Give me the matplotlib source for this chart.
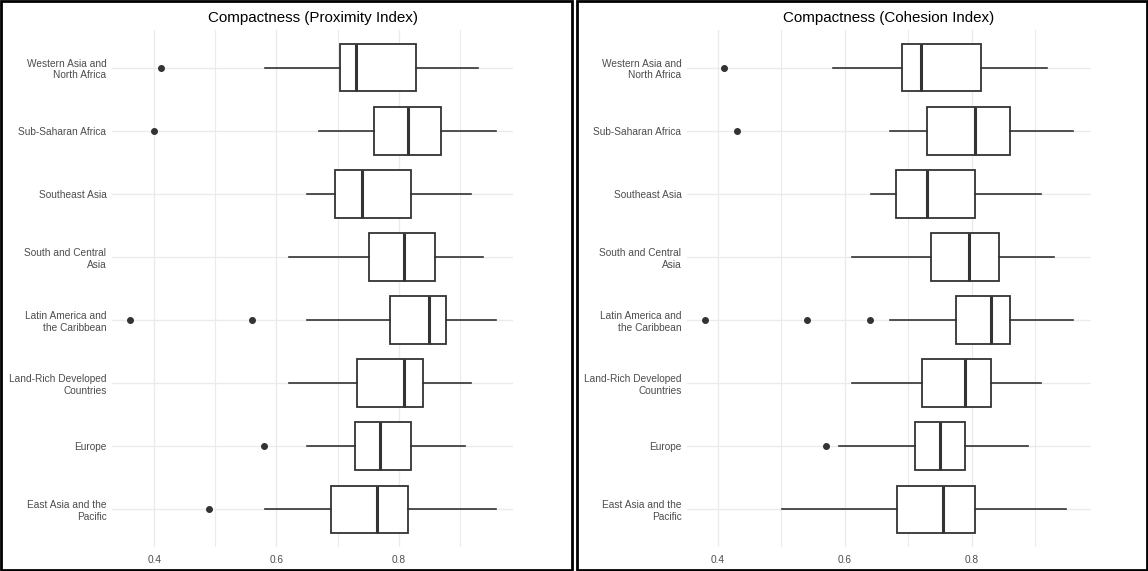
import matplotlib
matplotlib.use("Agg")
import matplotlib.pyplot as plt
from matplotlib.patches import Rectangle

plt.rcParams['font.family'] = ['Liberation Sans', 'DejaVu Sans']

regions = ["Western Asia and\nNorth Africa", "Sub-Saharan Africa", "Southeast Asia",
           "South and Central\nAsia", "Latin America and\nthe Caribbean",
           "Land-Rich Developed\nCountries", "Europe", "East Asia and the\nPacific"]

# proximity index: whisker low, q1, median, q3, whisker high, outliers
prox_lo = [0.581, 0.670, 0.650, 0.621, 0.650, 0.621, 0.650, 0.581]
prox_q1 = [0.704, 0.760, 0.695, 0.752, 0.785, 0.732, 0.729, 0.690]
prox_med = [0.730, 0.816, 0.740, 0.809, 0.849, 0.809, 0.770, 0.764]
prox_q3 = [0.829, 0.869, 0.820, 0.859, 0.877, 0.839, 0.820, 0.815]
prox_hi = [0.929, 0.959, 0.918, 0.938, 0.959, 0.918, 0.908, 0.959]
prox_out = [[0.411], [0.400], [], [], [0.361, 0.560], [], [0.580], [0.490]]

# cohesion index
coh_lo = [0.581, 0.671, 0.641, 0.611, 0.671, 0.611, 0.590, 0.501]
coh_q1 = [0.690, 0.730, 0.680, 0.735, 0.775, 0.722, 0.710, 0.682]
coh_med = [0.720, 0.805, 0.730, 0.795, 0.830, 0.790, 0.750, 0.755]
coh_q3 = [0.815, 0.860, 0.805, 0.843, 0.860, 0.830, 0.790, 0.805]
coh_hi = [0.919, 0.959, 0.909, 0.929, 0.959, 0.909, 0.889, 0.949]
coh_out = [[0.410], [0.430], [], [], [0.380, 0.540, 0.640], [], [0.570], []]

W, H = 1148, 571
fig = plt.figure(figsize=(W / 100, H / 100), dpi=100)

line_col = '#333333'
grid_col = '#EBEBEB'


def panel(x0, x1, title, lo, q1, med, q3, hi, out, xlim):
    ax = fig.add_axes([x0 / W, 1 - 547 / H, (x1 - x0) / W, (547 - 30) / H])
    n = len(regions)
    pos = list(range(n, 0, -1))
    stats = []
    for i in range(n):
        stats.append(dict(whislo=lo[i], q1=q1[i], med=med[i], q3=q3[i],
                          whishi=hi[i], fliers=out[i]))
    ax.bxp(stats, positions=pos, vert=False, widths=0.75, showcaps=False,
           patch_artist=True,
           boxprops=dict(facecolor='white', edgecolor=line_col, linewidth=1.3),
           medianprops=dict(color=line_col, linewidth=2.2),
           whiskerprops=dict(color=line_col, linewidth=1.2),
           flierprops=dict(marker='o', markersize=4, markerfacecolor=line_col,
                           markeredgecolor=line_col))
    ax.set_xlim(*xlim)
    ax.set_ylim(0.4, n + 0.6)
    ax.set_xticks([0.4, 0.6, 0.8])
    ax.set_xticks([0.5, 0.7, 0.9], minor=True)
    ax.set_xticklabels(['0.4', '0.6', '0.8'])
    ax.set_yticks(pos)
    ax.set_yticklabels(regions)
    ax.grid(True, which='major', color=grid_col, linewidth=1.0)
    ax.grid(True, which='minor', axis='x', color=grid_col, linewidth=0.8)
    ax.set_axisbelow(True)
    ax.tick_params(which='both', length=0, labelsize=7.3, labelcolor='#4D4D4D', pad=4)
    ax.tick_params(axis='x', pad=6)
    for s in ax.spines.values():
        s.set_visible(False)
    for lab in ax.get_yticklabels():
        lab.set_linespacing(1.2)
    ax.set_title(title, fontsize=10.9, color='black', pad=6)
    return ax


panel(112, 513, "Compactness (Proximity Index)", prox_lo, prox_q1, prox_med,
      prox_q3, prox_hi, prox_out, (0.331, 0.987))
panel(687, 1091, "Compactness (Cohesion Index)", coh_lo, coh_q1, coh_med,
      coh_q3, coh_hi, coh_out, (0.351, 0.988))

# frames around each panel
fig.patches.append(Rectangle((1 / W, 1 / H), 571 / W, 569 / H, transform=fig.transFigure,
                             fill=False, edgecolor='black', linewidth=2))
fig.patches.append(Rectangle((577 / W, 1 / H), 570 / W, 569 / H, transform=fig.transFigure,
                             fill=False, edgecolor='black', linewidth=2))

fig.savefig("out.png", dpi=100)
